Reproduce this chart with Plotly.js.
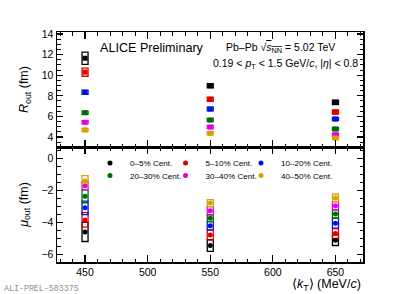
<!DOCTYPE html>
<html>
<head>
<meta charset="utf-8">
<script src="https://cdn.plot.ly/plotly-3.0.1.min.js"></script>
<style>html,body{margin:0;padding:0;background:#fff;}#chart{width:407px;height:294px;}</style>
</head>
<body>
<div id="chart"></div>
<script>
// ---- data ----
const kT = [450, 550, 650];
const centLabels = ["0–5% Cent.", "5–10% Cent.", "10–20% Cent.", "20–30% Cent.", "30–40% Cent.", "40–50% Cent."];
const centColors = ["#000000", "#dd0000", "#0010e0", "#006a00", "#e600e6", "#d9a000"];

// R_out (fm) and systematic half-widths
const Rout_0_5   = [11.65, 8.98, 7.37];
const Rout_5_10  = [10.30, 7.66, 6.43];
const Rout_10_20 = [8.34, 6.72, 5.75];
const Rout_20_30 = [6.36, 5.65, 4.78];
const Rout_30_40 = [5.43, 4.97, 4.22];
const Rout_40_50 = [4.68, 4.36, 3.90];
const RoutSys_0_5   = [0.60, 0.20, 0.22];
const RoutSys_5_10  = [0.40, 0.20, 0.20];
const RoutSys_10_20 = [0.20, 0.18, 0.16];
const RoutSys_20_30 = [0.16, 0.16, 0.15];
const RoutSys_30_40 = [0.15, 0.15, 0.15];
const RoutSys_40_50 = [0.15, 0.15, 0.15];

// mu_out (fm) and systematic half-widths
const Muout_0_5   = [-4.60, -5.45, -5.12];
const Muout_5_10  = [-3.85, -4.80, -4.70];
const Muout_10_20 = [-3.10, -4.22, -4.06];
const Muout_20_30 = [-2.38, -3.75, -3.49];
const Muout_30_40 = [-1.72, -3.28, -2.97];
const Muout_40_50 = [-1.43, -2.80, -2.48];
const MuoutSys_0_5   = [0.60, 0.37, 0.33];
const MuoutSys_5_10  = [0.45, 0.31, 0.31];
const MuoutSys_10_20 = [0.42, 0.26, 0.31];
const MuoutSys_20_30 = [0.40, 0.21, 0.26];
const MuoutSys_30_40 = [0.26, 0.26, 0.26];
const MuoutSys_40_50 = [0.34, 0.22, 0.23];

const Rout = [Rout_0_5, Rout_5_10, Rout_10_20, Rout_20_30, Rout_30_40, Rout_40_50];
const RoutSys = [RoutSys_0_5, RoutSys_5_10, RoutSys_10_20, RoutSys_20_30, RoutSys_30_40, RoutSys_40_50];
const Muout = [Muout_0_5, Muout_5_10, Muout_10_20, Muout_20_30, Muout_30_40, Muout_40_50];
const MuoutSys = [MuoutSys_0_5, MuoutSys_5_10, MuoutSys_10_20, MuoutSys_20_30, MuoutSys_30_40, MuoutSys_40_50];

const FONT = "Liberation Sans, Arial, sans-serif";
const legendIds = ["legend", "legend2", "legend3", "legend4", "legend5", "legend6"];
const traces = [];
function sysBoxes(vals, sys, color, xa, ya) {
  return {
    type: "bar", x: kT, base: vals.map((v, i) => v - sys[i]), y: sys.map(s => 2 * s),
    width: 4.8, xaxis: xa, yaxis: ya, showlegend: false, hoverinfo: "skip",
    marker: {color: "rgba(255,255,255,0)", line: {color: color, width: 1.3}}
  };
}
for (let c = 0; c < 6; c++) {
  traces.push(sysBoxes(Rout[c], RoutSys[c], centColors[c], "x2", "y2"));
  traces.push({type: "scatter", mode: "markers", x: kT, y: Rout[c], xaxis: "x2", yaxis: "y2",
    showlegend: false, marker: {symbol: "square", size: 5, color: centColors[c]}});
}
for (let c = 0; c < 6; c++) {
  traces.push(sysBoxes(Muout[c], MuoutSys[c], centColors[c], "x", "y"));
  traces.push({type: "scatter", mode: "markers", x: kT, y: Muout[c], xaxis: "x", yaxis: "y",
    name: centLabels[c], legend: legendIds[c],
    marker: {symbol: "circle", size: 5, color: centColors[c]}});
}

const axBase = {
  showline: true, linecolor: "#000", linewidth: 1.5, mirror: "allticks",
  ticks: "inside", ticklen: 7, tickwidth: 1.2, tickcolor: "#000",
  showgrid: false, zeroline: false,
  tickfont: {family: FONT, size: 10.5, color: "#000"},
  minor: {ticks: "inside", ticklen: 3.5, tickwidth: 1, tickcolor: "#000", showgrid: false}
};
const legBase = {orientation: "h", xanchor: "left", yanchor: "middle", bgcolor: "rgba(0,0,0,0)",
  font: {family: FONT, size: 8.1, color: "#000"}, itemwidth: 30, tracegroupgap: 0};
const legX = [0.1078, 0.3546, 0.6013];
const legY = [0.43, 0.376];

const layout = {
  width: 407, height: 294,
  margin: {l: 57, r: 44, t: 32, b: 32},
  paper_bgcolor: "#fff", plot_bgcolor: "#fff",
  barmode: "overlay",
  showlegend: true,
  xaxis: Object.assign({}, axBase, {domain: [0, 1], anchor: "y", range: [427.6, 672], tick0: 450, dtick: 50,
    minor: Object.assign({}, axBase.minor, {dtick: 10})}),
  xaxis2: Object.assign({}, axBase, {domain: [0, 1], anchor: "y2", matches: "x", range: [427.6, 672], tick0: 450, dtick: 50,
    showticklabels: false, minor: Object.assign({}, axBase.minor, {dtick: 10})}),
  yaxis: Object.assign({}, axBase, {domain: [0, 0.5], anchor: "x", range: [-6.48, 0.7], dtick: 2, ticklen: 6,
    minor: Object.assign({}, axBase.minor, {dtick: 0.5}),
    title: {text: "<i>μ</i><sub>out</sub> (fm)", font: {family: FONT, size: 12.5, color: "#000"}, standoff: 10}}),
  yaxis2: Object.assign({}, axBase, {domain: [0.5, 1], anchor: "x2", range: [3.03, 14.2], dtick: 2, ticklen: 6,
    minor: Object.assign({}, axBase.minor, {dtick: 0.5}),
    title: {text: "<i>R</i><sub>out</sub> (fm)", font: {family: FONT, size: 12.5, color: "#000"}, standoff: 10}}),
  annotations: [
    {text: "ALICE Preliminary", xref: "paper", yref: "paper", x: 0.134, y: 0.93, xanchor: "left", yanchor: "middle",
      showarrow: false, font: {family: FONT, size: 12.6, color: "#000"}},
    {text: "Pb–Pb √<span style=\"text-decoration:overline\"><i>s</i><sub>NN</sub></span> = 5.02 TeV", xref: "paper", yref: "paper",
      x: 0.545, y: 0.93, xanchor: "left", yanchor: "middle", showarrow: false, font: {family: FONT, size: 10.5, color: "#000"}},
    {text: "0.19 < <i>p</i><sub>T</sub> < 1.5 GeV/<i>c</i>, |<i>η</i>| < 0.8", xref: "paper", yref: "paper",
      x: 0.502, y: 0.86, xanchor: "left", yanchor: "middle", showarrow: false, font: {family: FONT, size: 10.5, color: "#000"}},
    {text: "⟨<i>k</i><sub>T</sub>⟩ (MeV/<i>c</i>)", xref: "paper", yref: "paper", x: 1, y: -0.1,
      xanchor: "right", yanchor: "middle", showarrow: false, font: {family: FONT, size: 12.5, color: "#000"}},
    {text: "ALI-PREL-503375", xref: "paper", yref: "paper", x: -0.18, y: -0.115, xanchor: "left", yanchor: "middle",
      showarrow: false, font: {family: "Liberation Mono, Courier New, monospace", size: 8.3, color: "#909090"}}
  ]
};
for (let c = 0; c < 6; c++) {
  layout[legendIds[c]] = Object.assign({}, legBase, {x: legX[c % 3], y: legY[Math.floor(c / 3)]});
}
Plotly.newPlot("chart", traces, layout, {displayModeBar: false, staticPlot: true});
</script>
</body>
</html>
